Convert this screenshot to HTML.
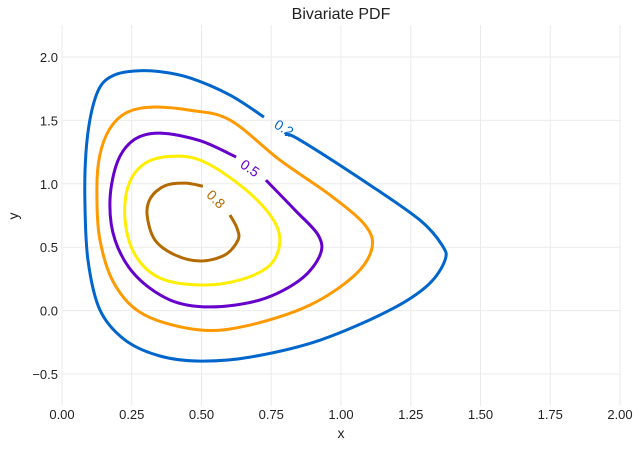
<!DOCTYPE html>
<html><head><meta charset="utf-8"><style>
body{margin:0;background:#fff;font-family:"Liberation Sans",sans-serif;}
svg text{font-family:"Liberation Sans",sans-serif;}
</style></head><body>
<svg id="chart" width="643" height="448" xmlns="http://www.w3.org/2000/svg">
<text x="341" y="19" text-anchor="middle" font-size="16" fill="#222">Bivariate  PDF</text>
<g id="grid"></g>
<g id="ticks"></g>
<g id="contours"></g>
<text x="341" y="438" text-anchor="middle" font-size="14" fill="#222">x</text>
<text x="18" y="216" text-anchor="middle" font-size="14" fill="#222" transform="rotate(-90 18 216)">y</text>
</svg>
<script>
const xTicks=[0,0.25,0.5,0.75,1.0,1.25,1.5,1.75,2.0];
const yTicks=[-0.5,0,0.5,1.0,1.5,2.0];
const levelLabels=["0.2","0.35","0.5","0.65","0.8"];
const levelColors=["#0066cc","#ff9900","#6600cc","#ffee00","#b36b00"];
const c02x=[0.724,0.602,0.459,0.351,0.260,0.190,0.138,0.105,0.086,0.082,0.093,0.136,0.226,0.351,0.495,0.674,0.925,1.176,1.312,1.373,1.362,1.283,1.104,0.853,0.800];
const c02y=[1.526,1.70,1.835,1.885,1.890,1.860,1.770,1.560,1.250,0.872,0.399,0.005,-0.232,-0.358,-0.398,-0.367,-0.233,0.005,0.202,0.399,0.517,0.714,0.99,1.345,1.39];
const c035x=[0.602,0.459,0.320,0.230,0.170,0.135,0.125,0.136,0.190,0.297,0.495,0.674,0.889,1.050,1.111,1.086,0.961,0.781];
const c035y=[1.503,1.580,1.605,1.560,1.430,1.220,0.951,0.557,0.202,-0.035,-0.153,-0.114,0.044,0.281,0.494,0.675,0.911,1.187];
const c05x=[0.624,0.495,0.351,0.260,0.200,0.172,0.190,0.262,0.387,0.530,0.710,0.853,0.925,0.918,0.835,0.731];
const c05y=[1.211,1.340,1.400,1.350,1.180,0.872,0.557,0.281,0.084,0.029,0.084,0.242,0.439,0.596,0.793,1.029];
const c065x=[0.495,0.380,0.290,0.237,0.226,0.262,0.351,0.495,0.638,0.746,0.781,0.746,0.638];
const c065y=[1.187,1.215,1.150,0.980,0.714,0.439,0.257,0.202,0.242,0.360,0.557,0.754,0.990];
const c08x=[0.505,0.441,0.369,0.318,0.305,0.333,0.405,0.495,0.584,0.631,0.627,0.602];
const c08y=[0.981,1.005,0.985,0.890,0.754,0.557,0.439,0.391,0.439,0.557,0.651,0.754];
const labelPos=[[0.796,1.44,32],null,[0.674,1.124,35],null,[0.552,0.879,45]];

const NS="http://www.w3.org/2000/svg";
const X=v=>62+v*279, Y=v=>310.6-v*126.8;
const grid=document.getElementById('grid'), ticks=document.getElementById('ticks'), cg=document.getElementById('contours');
const fmt=(t,d)=>(t<0?'\u2212':'')+Math.abs(t).toFixed(d);
xTicks.forEach(t=>{
 const l=document.createElementNS(NS,'line');
 
 
 l.setAttribute('x1',X(t));l.setAttribute('x2',X(t));l.setAttribute('y1',25);l.setAttribute('y2',406);
 l.setAttribute('stroke','#ebebeb');grid.appendChild(l);
 const s=document.createElementNS(NS,'text');
 
 
 s.setAttribute('x',X(t));s.setAttribute('y',419);s.setAttribute('text-anchor','middle');s.setAttribute('font-size','13');s.setAttribute('fill','#222');
 s.textContent=fmt(t,2);ticks.appendChild(s);
});
yTicks.forEach(t=>{
 const l=document.createElementNS(NS,'line');
 
 
 l.setAttribute('x1',62);l.setAttribute('x2',620);l.setAttribute('y1',Y(t));l.setAttribute('y2',Y(t));
 l.setAttribute('stroke','#ebebeb');grid.appendChild(l);
 const s=document.createElementNS(NS,'text');
 
 
 s.setAttribute('x',58);s.setAttribute('y',Y(t)+5);s.setAttribute('text-anchor','end');s.setAttribute('font-size','13');s.setAttribute('fill','#222');
 s.textContent=fmt(t,1);ticks.appendChild(s);
});
function path(xs,ys,closed){
 const p=xs.map((x,i)=>[X(x),Y(ys[i])]);const n=p.length;
 const g=i=>closed?p[(i+n)%n]:p[Math.max(0,Math.min(n-1,i))];
 let d='M'+p[0][0]+','+p[0][1];const m=closed?n:n-1;
 for(let i=0;i<m;i++){const p0=g(i-1),p1=g(i),p2=g(i+1),p3=g(i+2);
  d+=' C'+(p1[0]+(p2[0]-p0[0])/6)+','+(p1[1]+(p2[1]-p0[1])/6)+' '+(p2[0]-(p3[0]-p1[0])/6)+','+(p2[1]-(p3[1]-p1[1])/6)+' '+p2[0]+','+p2[1];}
 return d;
}
const sets=[[c02x,c02y,false],[c035x,c035y,true],[c05x,c05y,false],[c065x,c065y,true],[c08x,c08y,false]];
sets.forEach((s,i)=>{
 const e=document.createElementNS(NS,'path');
 
 
 e.setAttribute('d',path(s[0],s[1],s[2]));e.setAttribute('fill','none');e.setAttribute('stroke',levelColors[i]);e.setAttribute('stroke-width','3');
 cg.appendChild(e);
 const lp=labelPos[i];
 if(lp){const t=document.createElementNS(NS,'text');
  
  
  t.setAttribute('x',X(lp[0]));t.setAttribute('y',Y(lp[1])+5);t.setAttribute('text-anchor','middle');t.setAttribute('font-size','14');t.setAttribute('fill',levelColors[i]);
  t.setAttribute('transform','rotate('+lp[2]+' '+X(lp[0])+' '+Y(lp[1])+')');t.textContent=levelLabels[i];cg.appendChild(t);}
});
</script>
</body></html>
